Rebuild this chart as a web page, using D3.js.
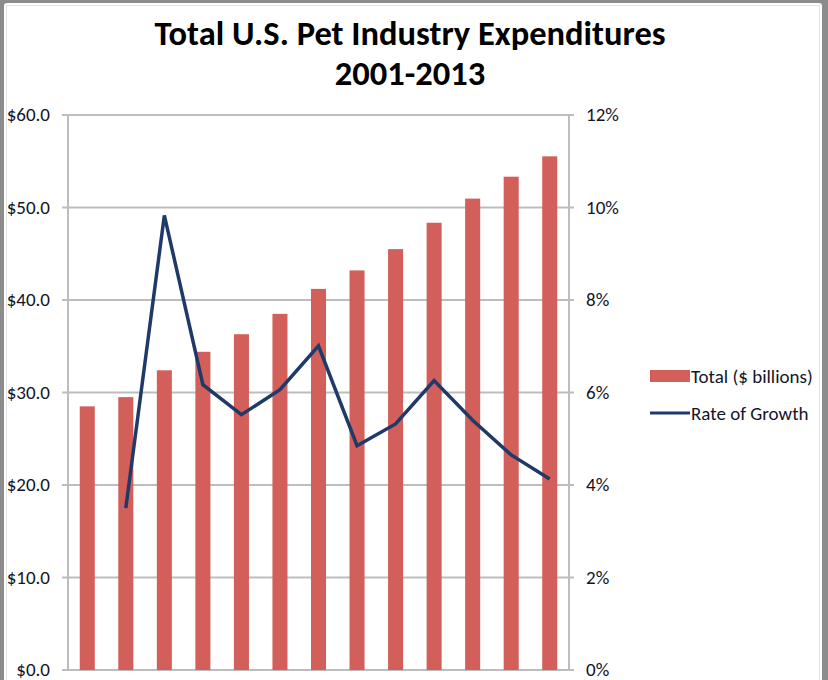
<!DOCTYPE html>
<html>
<head>
<meta charset="utf-8">
<script src="https://cdn.jsdelivr.net/npm/d3@7"></script>
<style>
  html, body { margin: 0; padding: 0; background: #8c8c8c; }
  svg { display: block; }
</style>
</head>
<body>
<svg id="chart" width="828" height="680"></svg>
<script>
// chart data
const years = ['2001', '2002', '2003', '2004', '2005', '2006', '2007', '2008', '2009', '2010', '2011', '2012', '2013'];
const totals = [28.5, 29.5, 32.4, 34.4, 36.3, 38.5, 41.2, 43.2, 45.5, 48.35, 50.96, 53.33, 55.53];
const growth = [null, 3.5, 9.83, 6.17, 5.52, 6.06, 7.01, 4.85, 5.32, 6.26, 5.4, 4.65, 4.13];
const leftTicks = [0, 10, 20, 30, 40, 50, 60];
const rightTicks = [0, 2, 4, 6, 8, 10, 12];
const titleLines = ['Total U.S. Pet Industry Expenditures', '2001-2013'];
const legendLabels = ['Total ($ billions)', 'Rate of Growth'];

const svg = d3.select('#chart');
const font = 'Carlito, "Open Sans", "Liberation Sans", sans-serif';

// frame
svg.append('rect').attr('x', 4).attr('y', 3).attr('width', 818).attr('height', 690)
    .attr('rx', 3).attr('fill', '#fff');
svg.append('rect').attr('x', 6.5).attr('y', 5.5).attr('width', 813).attr('height', 690)
    .attr('fill', 'none').attr('stroke', '#e4e4e4');

const plot = { left: 68, right: 569, top: 115, bottom: 670 };

const x = d3.scaleBand().domain(years).range([plot.left, plot.right]).paddingInner(0.61).paddingOuter(0.305);
const yL = d3.scaleLinear().domain([0, 60]).range([plot.bottom, plot.top]);
const yR = d3.scaleLinear().domain([0, 12]).range([plot.bottom, plot.top]);

// gridlines
svg.append('g').selectAll('line').data(leftTicks).enter().append('line')
    .attr('x1', plot.left - 6).attr('x2', plot.right + 5)
    .attr('y1', d => yL(d)).attr('y2', d => yL(d))
    .attr('stroke', '#bdbdbd').attr('stroke-width', 2);

// axis lines
svg.append('line').attr('x1', plot.left).attr('x2', plot.left)
    .attr('y1', plot.top).attr('y2', plot.bottom + 1)
    .attr('stroke', '#bdbdbd').attr('stroke-width', 2);
svg.append('line').attr('x1', plot.right).attr('x2', plot.right)
    .attr('y1', plot.top).attr('y2', plot.bottom + 1)
    .attr('stroke', '#bdbdbd').attr('stroke-width', 2);

// bars
svg.append('g').selectAll('rect').data(totals).enter().append('rect')
    .attr('x', (d, i) => x(years[i]))
    .attr('y', d => yL(d))
    .attr('width', x.bandwidth())
    .attr('height', d => yL(0) - yL(d))
    .attr('fill', '#d25f59');

// growth line
const line = d3.line()
    .defined(d => d != null)
    .x((d, i) => x(years[i]) + x.bandwidth() / 2)
    .y(d => yR(d));
svg.append('path').datum(growth)
    .attr('d', line)
    .attr('fill', 'none')
    .attr('stroke', '#1f3a68')
    .attr('stroke-width', 3.5)
    .attr('stroke-linejoin', 'miter');

// left axis labels
svg.append('g').selectAll('text').data(leftTicks).enter().append('text')
    .attr('x', 50).attr('y', d => yL(d) + 6)
    .attr('text-anchor', 'end')
    .attr('font-family', font).attr('font-size', 19).attr('fill', '#141428')
    .text(d => '$' + d3.format('.1f')(d));

// right axis labels
svg.append('g').selectAll('text').data(rightTicks).enter().append('text')
    .attr('x', 586).attr('y', d => yR(d) + 6)
    .attr('font-family', font).attr('font-size', 19).attr('fill', '#141428')
    .text(d => d + '%');

// title
svg.append('g').selectAll('text').data(titleLines).enter().append('text')
    .attr('x', 410).attr('y', (d, i) => 45 + i * 40)
    .attr('text-anchor', 'middle')
    .attr('font-family', font).attr('font-weight', 'bold').attr('font-size', 34.5)
    .attr('fill', '#000')
    .text(d => d);

// legend
const lg = svg.append('g').attr('transform', 'translate(650,376)');
lg.append('rect').attr('x', 0).attr('y', -6).attr('width', 40).attr('height', 12).attr('fill', '#d25f59');
lg.append('line').attr('x1', 0).attr('x2', 40).attr('y1', 37).attr('y2', 37)
    .attr('stroke', '#1f3a68').attr('stroke-width', 3);
lg.selectAll('text').data(legendLabels).enter().append('text')
    .attr('x', 41).attr('y', (d, i) => 7 + i * 37)
    .attr('font-family', font).attr('font-size', 19).attr('fill', '#141428')
    .text(d => d);
</script>
</body>
</html>
